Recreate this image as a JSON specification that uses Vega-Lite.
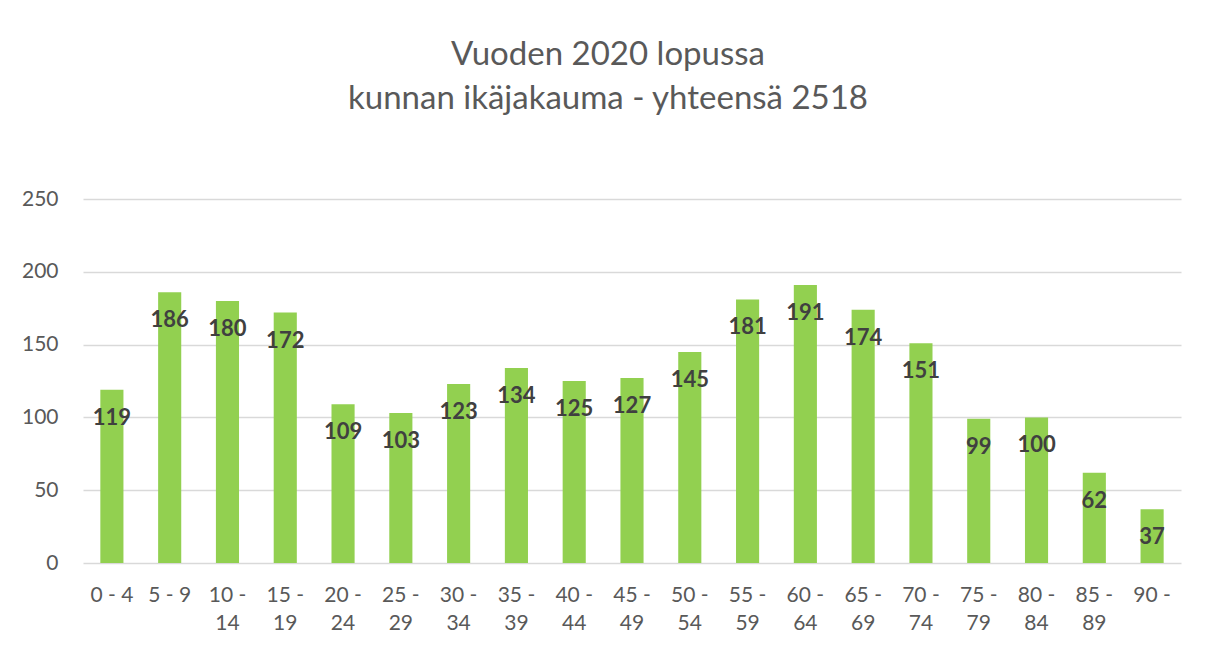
{
  "$schema": "https://vega.github.io/schema/vega-lite/v6.json",
  "width": 1098,
  "height": 364,
  "autosize": {"type": "none"},
  "padding": {"left": 83, "top": 199, "right": 24, "bottom": 84},
  "background": "white",
  "config": {
    "view": {"stroke": null},
    "font": "Lato"
  },
  "title": {
    "text": ["Vuoden 2020 lopussa", "kunnan ikäjakauma - yhteensä 2518"],
    "fontSize": 33,
    "fontWeight": "normal",
    "color": "#595959",
    "font": "Lato",
    "anchor": "middle",
    "frame": "group",
    "dx": -24,
    "lineHeight": 44,
    "offset": 72
  },
  "data": {
    "values": [
      {"age": "0 - 4", "count": 119},
      {"age": "5 - 9", "count": 186},
      {"age": "10 - 14", "count": 180},
      {"age": "15 - 19", "count": 172},
      {"age": "20 - 24", "count": 109},
      {"age": "25 - 29", "count": 103},
      {"age": "30 - 34", "count": 123},
      {"age": "35 - 39", "count": 134},
      {"age": "40 - 44", "count": 125},
      {"age": "45 - 49", "count": 127},
      {"age": "50 - 54", "count": 145},
      {"age": "55 - 59", "count": 181},
      {"age": "60 - 64", "count": 191},
      {"age": "65 - 69", "count": 174},
      {"age": "70 - 74", "count": 151},
      {"age": "75 - 79", "count": 99},
      {"age": "80 - 84", "count": 100},
      {"age": "85 - 89", "count": 62},
      {"age": "90 -", "count": 37}
    ]
  },
  "encoding": {
    "x": {
      "field": "age",
      "type": "nominal",
      "sort": null,
      "scale": {"paddingInner": 0.6, "paddingOuter": 0.3},
      "axis": {
        "title": null,
        "labelAngle": 0,
        "labelFontSize": 21,
        "labelColor": "#595959",
        "labelFont": "Lato",
        "labelPadding": 21,
        "labelLineHeight": 28,
        "ticks": false,
        "domain": false,
        "labelExpr": "length(datum.label) > 5 ? [split(datum.label, ' - ')[0] + ' -', split(datum.label, ' - ')[1]] : datum.label"
      }
    },
    "y": {
      "field": "count",
      "type": "quantitative",
      "scale": {"domain": [0, 250]},
      "axis": {
        "title": null,
        "values": [0, 50, 100, 150, 200, 250],
        "labelFontSize": 21,
        "labelColor": "#595959",
        "labelFont": "Lato",
        "labelPadding": 25,
        "ticks": false,
        "domain": false,
        "gridColor": "#d9d9d9",
        "gridWidth": 1.3
      }
    }
  },
  "layer": [
    {"mark": {"type": "bar", "color": "#92d050"}},
    {
      "mark": {
        "type": "text",
        "baseline": "middle",
        "dy": 28,
        "fontSize": 22,
        "fontWeight": "bold",
        "color": "#404040",
        "font": "Lato"
      },
      "encoding": {"text": {"field": "count", "type": "quantitative"}}
    }
  ]
}
